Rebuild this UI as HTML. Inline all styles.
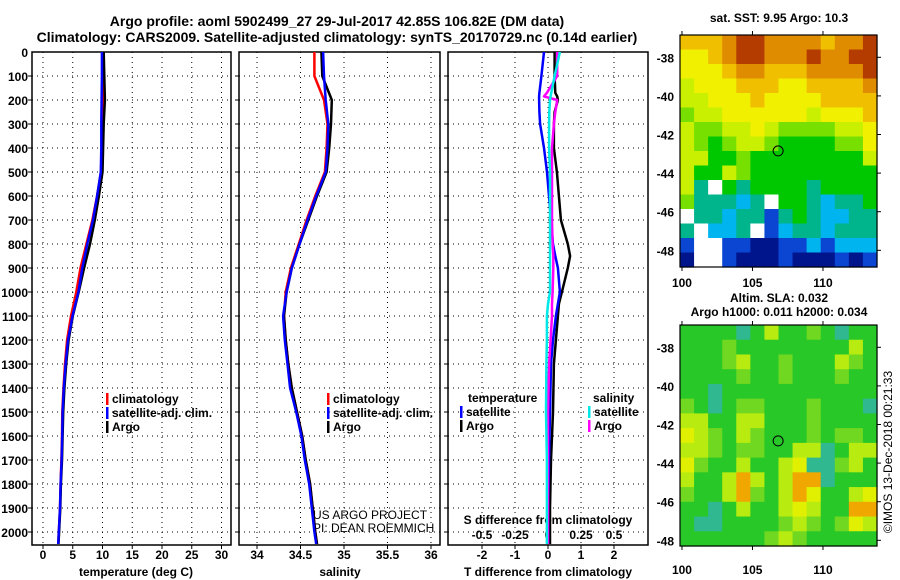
<!DOCTYPE html>
<html><head><meta charset="utf-8">
<style>
html,body{margin:0;padding:0;background:#fff;}
svg{display:block;font-family:"Liberation Sans",sans-serif;font-weight:bold;}
</style></head>
<body>
<svg id="chart" width="900" height="580" viewBox="0 0 900 580" xmlns="http://www.w3.org/2000/svg">
<g id="static">
<text x="337" y="26" font-size="14" text-anchor="middle">Argo profile: aoml 5902499_27 29-Jul-2017 42.85S 106.82E (DM data)</text>
<text x="337" y="42" font-size="14" text-anchor="middle">Climatology: CARS2009. Satellite-adjusted climatology: synTS_20170729.nc (0.14d earlier)</text>
<text x="779" y="22" font-size="12" text-anchor="middle">sat. SST: 9.95 Argo: 10.3</text>
<text x="779" y="302" font-size="12" text-anchor="middle">Altim. SLA: 0.032</text>
<text x="779" y="316" font-size="12" text-anchor="middle">Argo h1000: 0.011 h2000: 0.034</text>
<text transform="translate(892,452) rotate(-90)" font-size="12" font-weight="normal" text-anchor="middle">©IMOS 13-Dec-2018 00:21:33</text>
<text x="136" y="576" font-size="12" text-anchor="middle">temperature (deg C)</text>
<text x="340" y="576" font-size="12" text-anchor="middle">salinity</text>
<text x="548" y="576" font-size="12" text-anchor="middle">T difference from climatology</text>
<text x="548" y="524" font-size="12" text-anchor="middle">S difference from climatology</text>
<text x="313" y="519" font-size="12" font-weight="normal">US ARGO PROJECT</text>
<text x="313" y="532" font-size="12" font-weight="normal">PI: DEAN ROEMMICH</text>
</g>
<g id="dyn"></g>
</svg>
<script>
// ---- profile data ----
const depths = [0,100,200,300,400,500,600,700,800,900,1000,1100,1200,1300,1400,1500,1600,1700,1800,1900,2000,2050];
const tempArgo = [10.2,10.3,10.4,10.2,10.1,10.0,9.4,8.7,7.9,6.9,6.0,5.0,4.3,3.9,3.6,3.4,3.3,3.2,3.0,2.9,2.7,2.6];
const tempClim = [10.0,10.1,10.1,10.0,9.9,9.75,9.1,8.3,7.3,6.3,5.6,4.7,4.05,3.7,3.45,3.25,3.2,3.1,2.95,2.85,2.65,2.55];
const tempSat  = [9.9,9.9,9.85,9.8,9.8,9.72,9.1,8.4,7.45,6.6,5.95,4.95,4.2,3.8,3.5,3.3,3.22,3.12,2.96,2.86,2.65,2.55];
const salArgo = [34.74,34.75,34.86,34.85,34.83,34.80,34.69,34.59,34.49,34.40,34.34,34.31,34.33,34.36,34.40,34.46,34.52,34.56,34.61,34.64,34.67,34.69];
const salClim = [34.66,34.66,34.77,34.81,34.80,34.78,34.67,34.57,34.48,34.39,34.33,34.31,34.33,34.36,34.40,34.46,34.52,34.56,34.61,34.64,34.67,34.69];
const salSat  = [34.76,34.77,34.79,34.82,34.81,34.79,34.68,34.58,34.49,34.40,34.34,34.30,34.32,34.35,34.38,34.45,34.51,34.55,34.60,34.63,34.66,34.68];
const diffDepths = [0,100,170,185,200,250,300,400,500,600,700,800,850,900,1000,1050,1100,1200,1300,1500,1700,1900,2050];
const tDiffSat  = [-0.12,-0.2,-0.26,-0.27,-0.27,-0.26,-0.24,-0.12,-0.03,0.03,0.09,0.15,0.22,0.3,0.36,0.3,0.24,0.15,0.09,0.06,0.03,0.0,0.0];
const tDiffArgo = [0.2,0.2,0.22,0.28,0.3,0.2,0.18,0.18,0.27,0.33,0.39,0.6,0.67,0.6,0.42,0.33,0.3,0.24,0.18,0.15,0.09,0.06,0.06];
const sDiffSat  = [0.09,0.05,0.025,0.02,0.015,0.01,0.008,0.008,0.015,0.015,0.015,0.015,0.015,0.015,0.015,0.0,-0.008,-0.008,-0.012,-0.015,-0.008,-0.008,-0.008];
const sDiffArgo = [0.07,0.07,-0.008,-0.03,0.07,0.055,0.045,0.03,0.03,0.03,0.03,0.035,0.04,0.04,0.035,0.03,0.03,0.02,0.008,0.0,0.0,0.0,0.0];
const depthTicks = [0,100,200,300,400,500,600,700,800,900,1000,1100,1200,1300,1400,1500,1600,1700,1800,1900,2000];
const tempTicks = [0,5,10,15,20,25,30];
const salTicks = [34,34.5,35,35.5,36];
const tDiffTicks = [-2,-1,0,1,2];
const sDiffTicks = [-0.5,-0.25,0,0.25,0.5];
const lonTicks = [100,105,110];
const latTicks = [-38,-40,-42,-44,-46,-48];
const argoLon = 106.82, argoLat = -42.85;
// SST map grid (colour class, -1 = missing), rows north->south
const sstGrid = [
[8,8,8,9,10,10,9,9,9,9,8,9,9,10],
[7,7,8,9,10,10,9,9,9,10,9,9,10,10],
[7,7,7,8,9,9,8,8,8,9,9,9,9,10],
[6,7,7,7,8,8,8,7,7,8,8,8,8,9],
[6,6,7,7,7,8,7,7,7,7,8,8,8,8],
[5,6,6,7,7,7,7,7,7,6,7,7,7,8],
[6,5,5,6,6,7,6,5,5,5,5,6,6,7],
[6,5,4,5,6,6,5,4,4,4,4,5,5,7],
[6,6,4,4,5,4,4,4,4,4,4,4,4,6],
[6,4,4,6,5,4,4,4,4,4,4,4,4,4],
[6,3,-1,4,3,4,4,4,4,3,4,4,4,4],
[5,3,3,3,2,3,-1,4,4,3,2,3,3,4],
[-1,3,3,2,3,3,1,3,4,3,2,2,3,3],
[3,-1,2,2,3,-1,1,2,3,3,2,3,3,3],
[1,-1,-1,1,1,0,0,1,1,2,1,2,2,2],
[0,-1,-1,1,0,0,0,1,0,0,0,1,0,1]];
// SLA map grid
const slaGrid = [
[4,4,4,4,3,4,6,4,4,5,4,3,4,4],
[4,4,4,5,4,4,4,4,4,4,4,4,6,4],
[4,4,4,5,6,4,4,5,4,4,4,6,5,4],
[4,4,4,4,5,4,4,5,4,4,4,5,4,4],
[4,4,3,4,4,4,4,4,4,4,4,4,4,4],
[5,4,3,4,5,5,4,4,4,5,4,4,4,3],
[6,6,4,4,6,6,4,4,4,5,4,4,4,4],
[7,6,5,4,6,5,4,4,4,5,4,5,5,4],
[6,6,5,4,5,5,4,4,6,6,3,4,6,6],
[7,5,4,4,6,4,4,6,7,3,3,5,6,4],
[6,4,4,6,8,6,4,6,8,8,3,4,4,4],
[5,4,4,6,8,5,4,6,8,7,4,4,6,7],
[4,4,3,4,6,4,4,6,7,6,4,4,8,8],
[4,3,3,4,4,4,4,5,6,5,4,5,7,6],
[4,4,4,4,4,4,5,6,5,4,4,4,4,4]];

const palette = ['#00148c','#0a46d2','#00b4f0','#00b48c','#00c800','#78e000','#c8f000','#f0f000','#f0c000','#e08c00','#b43c00'];
const slaPalette = ['#00148c','#0a46d2','#00b4f0','#30b890','#28c828','#70d820','#b8ec10','#e0f000','#f0a800','#e08c00','#b43c00'];
const NS='http://www.w3.org/2000/svg';
const dyn=document.getElementById('dyn');
function mk(tag,attrs,parent){const e=document.createElementNS(NS,tag);for(const k in attrs)e.setAttribute(k,attrs[k]);(parent||dyn).appendChild(e);return e;}
const Y0=52, YPX=0.24;
const yD=d=>Y0+d*YPX;
const xT=v=>43+v*5.95;
const xS=v=>257+(v-34)*87;
const xTD=v=>548+v*33;
const xSD=v=>548+v*132;
const panels=[{x0:32,x1:231,name:'temperature'},{x0:239,x1:440,name:'salinity'},{x0:448,x1:648,name:'difference'}];
const PB=545;
panels.forEach((p,i)=>{
  const g=mk('g',{});
  
  
  const r=mk('rect',{x:p.x0,y:Y0,width:p.x1-p.x0,height:PB-Y0,fill:'none',stroke:'#000','stroke-width':1.5},g);
  
  
  depthTicks.forEach(d=>{
    if(d===0)return;
    const l=mk('line',{x1:p.x0,x2:p.x1,y1:yD(d),y2:yD(d),stroke:'#000','stroke-dasharray':'1,4','stroke-width':1},g);
    
    
    mk('line',{x1:p.x0-4,x2:p.x0,y1:yD(d),y2:yD(d),stroke:'#000'},g);
  });
});
depthTicks.forEach(d=>{
  const t=mk('text',{x:28,y:yD(d)+5,'font-size':12,'text-anchor':'end'});
  t.textContent=d;
  
  
});
function xaxis(ticks,fx,y,fmt,grid,name){
  ticks.forEach(v=>{
    const x=fx(v);
    if(grid){const l=mk('line',{x1:x,x2:x,y1:Y0,y2:PB,stroke:'#000','stroke-dasharray':'1,4'});
      
      
      mk('line',{x1:x,x2:x,y1:PB,y2:PB+4,stroke:'#000'});}
    const t=mk('text',{x:x,y:y,'font-size':12,'text-anchor':'middle'});
    t.textContent=fmt?fmt(v):v;
    
    
  });
}
xaxis(tempTicks,xT,559,null,true,'temperature');
xaxis(salTicks,xS,559,null,true,'salinity');
xaxis(tDiffTicks,xTD,559,null,true,'t-difference');
xaxis(sDiffTicks,xSD,539,null,false,'s-difference');
function line(xs,ys,fx,color,name){
  const pts=xs.map((v,i)=>fx(v).toFixed(1)+','+yD(ys[i]).toFixed(1)).join(' ');
  const pl=mk('polyline',{points:pts,fill:'none',stroke:color,'stroke-width':2.5,'stroke-linejoin':'round'});
  
  
}
line(tempClim,depths,xT,'#ff0000','temperature-climatology-line');
line(tempArgo,depths,xT,'#000000','temperature-argo-line');
line(tempSat,depths,xT,'#0000ff','temperature-satellite-line');
line(salClim,depths,xS,'#ff0000','salinity-climatology-line');
line(salArgo,depths,xS,'#000000','salinity-argo-line');
line(salSat,depths,xS,'#0000ff','salinity-satellite-line');
line(tDiffArgo,diffDepths,xTD,'#000000','t-diff-argo-line');
line(tDiffSat,diffDepths,xTD,'#0000ff','t-diff-satellite-line');
line(sDiffArgo,diffDepths,xSD,'#ff00ff','s-diff-argo-line');
line(sDiffSat,diffDepths,xSD,'#00e8e8','s-diff-satellite-line');
function legend(x,y,color,label,name){
  const r=mk('rect',{x:x,y:y-10,width:2.5,height:12,fill:color});
  
  
  const t=mk('text',{x:x+6,y:y,'font-size':12});
  t.textContent=label;
  
  
}
[[106,'temp'],[327,'sal']].forEach(([x,n])=>{
  legend(x,403,'#ff0000','climatology',n+'-legend-climatology');
  legend(x,417,'#0000ff','satellite-adj. clim.',n+'-legend-satellite');
  legend(x,431,'#000000','Argo',n+'-legend-argo');
});
const lt=mk('text',{x:468,y:402,'font-size':12});lt.textContent='temperature';


const ls=mk('text',{x:593,y:402,'font-size':12});ls.textContent='salinity';


legend(460,416,'#0000ff','satellite','diff-legend-t-satellite');
legend(460,430,'#000000','Argo','diff-legend-t-argo');
legend(588,416,'#00e8e8','satellite','diff-legend-s-satellite');
legend(588,430,'#ff00ff','Argo','diff-legend-s-argo');
// maps
const MX0=680,MX1=877,LON0=99.86,LONPX=14.1;
const xLon=v=>MX0+(v-LON0)*LONPX;
function drawMap(grid,pal,y0,y1,lat38y,name,labelY){
  const g=mk('g',{});
  
  
  const rows=grid.length,cols=grid[0].length;
  const cw=(MX1-MX0)/cols,ch=(y1-y0)/rows;
  grid.forEach((row,ri)=>row.forEach((v,ci)=>{
    const c=mk('rect',{x:(MX0+ci*cw).toFixed(2),y:(y0+ri*ch).toFixed(2),width:(cw+0.6).toFixed(2),height:(ch+0.6).toFixed(2),fill:v<0?'#ffffff':pal[v]},g);
    
    
  }));
  mk('rect',{x:MX0,y:y0,width:MX1-MX0,height:y1-y0,fill:'none',stroke:'#000','stroke-width':1.2},g);
  const yLat=v=>lat38y+(-38-v)*19.3;
  latTicks.forEach(v=>{
    const y=yLat(v);
    mk('line',{x1:MX1,x2:MX1+4,y1:y,y2:y,stroke:'#000'},g);
    const t=mk('text',{x:674,y:y+5,'font-size':12,'text-anchor':'end',fill:'#000'},g);
    t.textContent=v;
    
    
  });
  lonTicks.forEach(v=>{
    const x=xLon(v);
    mk('line',{x1:x,x2:x,y1:y0-4,y2:y0,stroke:'#000'},g);
    mk('line',{x1:x,x2:x,y1:y1,y2:y1+4,stroke:'#000'},g);
    const t=mk('text',{x:x,y:labelY,'font-size':12,'text-anchor':'middle'},g);
    t.textContent=v;
    
    
  });
  const c=mk('circle',{cx:xLon(argoLon),cy:yLat(argoLat),r:5,fill:'none',stroke:'#000','stroke-width':1},g);
  
  
}
drawMap(sstGrid,palette,35,267,57.3,'sst-map',287);
drawMap(slaGrid,slaPalette,325,546,347.3,'sla-map',574);
</script>
</body></html>
